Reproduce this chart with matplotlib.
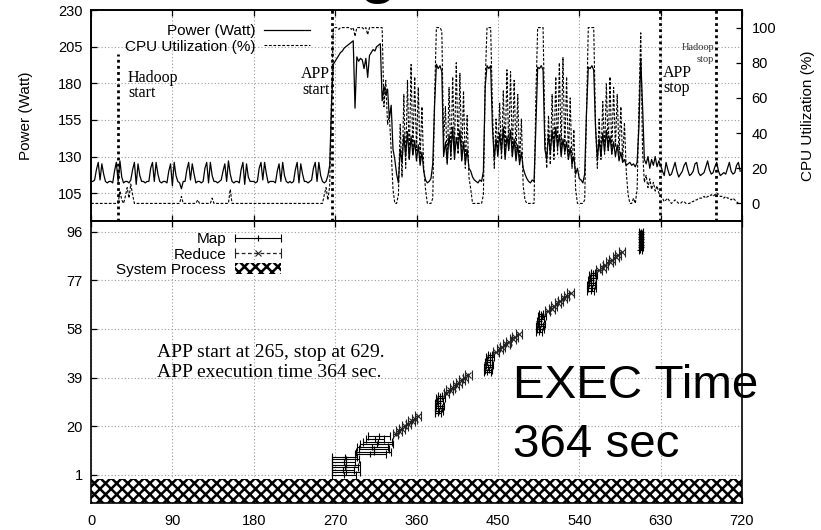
import numpy as np
import matplotlib
matplotlib.use("Agg")
import matplotlib.pyplot as plt
from matplotlib.legend_handler import HandlerErrorbar

# ---- top panel: samples every 2 s (one row = 20 s) ----
sample_step = 2
power_watt = [
    113, 113, 114, 121, 126, 114, 125, 118, 113, 112,   # 0
    113, 113, 112, 120, 126, 113, 127, 116, 112, 113,   # 20
    113, 112, 114, 121, 126, 111, 125, 117, 113, 113,   # 40
    112, 113, 113, 122, 126, 113, 126, 118, 113, 112,   # 60
    113, 113, 112, 120, 125, 110, 126, 117, 113, 112,   # 80
    108, 113, 113, 121, 126, 114, 125, 118, 112, 113,   # 100
    113, 112, 113, 122, 126, 112, 126, 117, 113, 113,   # 120
    112, 113, 114, 120, 125, 113, 127, 118, 113, 112,   # 140
    113, 113, 112, 121, 126, 111, 125, 116, 113, 113,   # 160
    113, 112, 113, 122, 126, 114, 126, 118, 112, 113,   # 180
    113, 113, 112, 120, 125, 113, 126, 117, 113, 112,   # 200
    113, 112, 113, 121, 126, 112, 125, 118, 113, 113,   # 220
    112, 113, 114, 122, 126, 113, 126, 117, 113, 112,   # 240
    113, 117, 124, 165, 193, 195, 197, 199, 201, 202,   # 260
    204, 205, 206, 207, 208, 209, 163, 198, 195, 197,   # 280
    196, 190, 197, 184, 199, 201, 203, 202, 205, 206,   # 300
    207, 168, 178, 172, 176, 156, 165, 135, 128, 118,   # 320
    112, 135, 126, 145, 130, 147, 128, 144, 131, 141,   # 340
    127, 138, 124, 133, 120, 114, 112, 113, 115, 125,   # 360
    165, 193, 190, 192, 188, 130, 140, 126, 145, 132,   # 380
    150, 128, 143, 135, 148, 127, 140, 125, 135, 122,   # 400
    120, 116, 114, 113, 112, 114, 113, 120, 178, 192,   # 420
    190, 192, 150, 128, 142, 130, 146, 133, 150, 128,   # 440
    144, 135, 148, 130, 142, 127, 138, 125, 133, 122,   # 460
    118, 115, 113, 112, 114, 113, 150, 191, 190, 192,   # 480
    189, 135, 128, 145, 132, 148, 134, 150, 136, 145,   # 500
    130, 142, 133, 140, 128, 136, 125, 130, 118, 122,   # 520
    115, 114, 112, 118, 160, 191, 190, 192, 189, 150,   # 540
    128, 142, 130, 146, 133, 148, 135, 144, 132, 140,   # 560
    130, 138, 127, 133, 126, 128, 124, 125, 126, 124,   # 580
    125, 123, 126, 150, 197, 165, 128, 125, 130, 122,   # 600
    128, 124, 130, 123, 127, 124, 120, 117, 126, 121,   # 620
    117, 118, 122, 126, 120, 116, 118, 120, 124, 126,   # 640
    121, 117, 118, 120, 125, 126, 119, 117, 118, 119,   # 660
    123, 127, 121, 118, 119, 123, 126, 120, 117, 118,   # 680
    119, 118, 122, 126, 120, 118, 119, 124, 126, 120,   # 700
]
cpu_util = [
    0, 0, 0, 0, 0, 0, 0, 0, 0, 0,
    0, 0, 0, 0, 0, 0, 7, 2, 0, 4,
    9, 3, 11, 5, 0, 0, 0, 0, 0, 0,
    0, 0, 0, 0, 0, 0, 0, 0, 0, 0,
    0, 0, 0, 0, 0, 0, 0, 0, 0, 0,
    4, 0, 0, 0, 0, 0, 0, 0, 0, 2,
    0, 0, 0, 0, 0, 0, 0, 3, 0, 0,
    0, 0, 0, 0, 0, 0, 0, 8, 0, 0,
    0, 0, 0, 0, 0, 0, 0, 0, 0, 0,
    0, 0, 0, 0, 0, 0, 0, 0, 0, 0,
    0, 0, 0, 0, 0, 0, 0, 0, 0, 0,
    0, 0, 0, 0, 0, 0, 0, 0, 0, 0,
    0, 0, 0, 0, 0, 0, 0, 0, 0, 5,
    9, 2, 10, 60, 100, 100, 100, 99, 100, 100,
    100, 100, 100, 100, 99, 100, 95, 100, 100, 100,
    100, 99, 100, 96, 100, 100, 100, 100, 100, 100,
    100, 100, 55, 70, 45, 50, 30, 8, 0, 0,
    5, 45, 15, 62, 20, 70, 25, 79, 28, 72,
    30, 66, 25, 55, 20, 8, 0, 0, 0, 3,
    60, 100, 100, 100, 98, 35, 55, 22, 66, 25,
    72, 30, 80, 28, 74, 25, 64, 20, 50, 15,
    8, 0, 0, 0, 0, 0, 0, 5, 70, 100,
    100, 100, 55, 20, 48, 30, 57, 25, 64, 28,
    76, 30, 75, 27, 70, 28, 62, 22, 48, 10,
    2, 0, 0, 0, 0, 0, 60, 100, 100, 100,
    100, 40, 20, 50, 22, 62, 25, 72, 28, 80,
    30, 83, 28, 72, 25, 60, 20, 42, 8, 0,
    0, 0, 0, 2, 50, 100, 100, 100, 100, 45,
    20, 48, 25, 58, 28, 68, 30, 72, 28, 66,
    32, 62, 28, 55, 24, 46, 18, 5, 0, 0,
    3, 0, 8, 55, 97, 30, 12, 16, 9, 14,
    8, 12, 7, 10, 6, 4, 3, 1, 2, 3,
    1, 0, 1, 2, 1, 0, 0, 1, 1, 0,
    0, 0, 1, 1, 2, 2, 3, 3, 3, 4,
    3, 4, 4, 5, 4, 5, 6, 5, 4, 4,
    3, 4, 3, 3, 2, 3, 2, 1, 0, 0,
]
time_sec = np.arange(len(power_watt)) * sample_step

event_times = [30, 266, 629, 691]
event_tops = [200, 230, 230, 230]

# ---- bottom panel: task timeline ----
map_task = (list(range(1, 17)) + list(range(25, 33)) + list(range(41, 49))
            + list(range(57, 65)) + list(range(73, 81)) + list(range(89, 97)))
map_start = [267, 267, 267, 267, 267, 267, 267, 267,
             292, 293, 296, 294, 298, 301, 304, 306,
             380, 381, 380, 382, 381, 383, 382, 384,
             435, 436, 435, 437, 436, 438, 437, 439,
             492, 493, 492, 494, 493, 495, 494, 496,
             549, 550, 549, 551, 550, 552, 551, 553,
             606, 606, 607, 606, 607, 606, 607, 606]
map_end = [293, 297, 291, 295, 298, 292, 296, 294,
           326, 332, 330, 328, 334, 333, 324, 331,
           387, 389, 388, 390, 386, 389, 391, 388,
           442, 444, 443, 445, 441, 444, 446, 443,
           499, 501, 500, 502, 498, 501, 503, 500,
           556, 558, 557, 559, 555, 558, 560, 557,
           609, 610, 609, 610, 609, 610, 609, 610]

reduce_task = (list(range(17, 25)) + list(range(33, 41)) + list(range(49, 57))
               + list(range(65, 73)) + list(range(81, 89)))
reduce_start = [334, 337, 341, 344, 348, 351, 355, 358,
                390, 393, 397, 400, 404, 407, 411, 414,
                445, 449, 452, 456, 459, 463, 466, 470,
                502, 506, 509, 513, 516, 520, 523, 527,
                559, 563, 566, 570, 573, 577, 580, 584]
reduce_end = [340, 344, 347, 351, 354, 358, 361, 365,
              396, 400, 403, 407, 410, 414, 417, 421,
              451, 456, 458, 463, 465, 470, 472, 477,
              508, 513, 515, 520, 522, 527, 529, 534,
              565, 570, 572, 577, 579, 584, 586, 591]

sys_time = [0, 720]
sys_low, sys_high = -10, -0.6

plt.rcParams["font.family"] = ["Liberation Sans", "DejaVu Sans"]
plt.rcParams["hatch.linewidth"] = 1.8
serif = "Liberation Serif"

W, H = 821, 530
fig = plt.figure(figsize=(W / 100, H / 100), dpi=100)
ax = fig.add_axes([91 / W, 1 - 221 / H, 651 / W, 211 / H])
axb = fig.add_axes([91 / W, 1 - 503 / H, 651 / W, 282 / H])
ax2 = ax.twinx()

grid_kw = dict(color="#9a9a9a", linestyle=(0, (1, 2)), linewidth=0.8)

h_pow, = ax.plot(time_sec, power_watt, color="black", lw=0.9)
h_cpu, = ax2.plot(time_sec, cpu_util, color="black", lw=0.8, dashes=(2.5, 1.5))

ax.set_xlim(0, 720)
ax.set_ylim(86, 230)
ax.set_yticks(range(105, 231, 25))
ax.set_xticks(range(0, 721, 90))
ax.tick_params(direction="in", top=True, labelbottom=False, length=4,
               width=0.9, labelsize=10.5, pad=6)
ax.grid(True, **grid_kw)
ax2.set_ylim(-10, 110)
ax2.set_yticks(range(0, 101, 20))
ax2.tick_params(direction="in", length=4, width=0.9, labelsize=10.5, pad=7)

ax.set_ylabel("Power (Watt)", fontsize=11)
ax.yaxis.set_label_coords(-0.089, 0.5)
ax2.set_ylabel("CPU Utilization (%)", fontsize=11)
ax2.yaxis.set_label_coords(1.09, 0.5)

for t, top in zip(event_times, event_tops):
    ax.vlines(t, 86, top, colors="black", linestyles=(0, (1, 1.2)), lw=2)

ax.text(41, 181, "Hadoop", family=serif, fontsize=11.5, va="baseline")
ax.text(41, 170.8, "start", family=serif, fontsize=11.5, va="baseline")
ax.text(264, 183.3, "APP", family=serif, fontsize=11.5, va="baseline", ha="right")
ax.text(264, 172.6, "start", family=serif, fontsize=11.5, va="baseline", ha="right")
ax.text(633, 184, "APP", family=serif, fontsize=11.5, va="baseline")
ax.text(633, 174, "stop", family=serif, fontsize=11.5, va="baseline")
ax.text(689, 203, "Hadoop", family=serif, fontsize=7.5, va="baseline", ha="right", color="#333333")
ax.text(689, 194.7, "stop", family=serif, fontsize=7.5, va="baseline", ha="right", color="#333333")

ax2.legend([h_pow, h_cpu], ["Power (Watt)", "CPU Utilization (%)"],
           loc="upper right", bbox_to_anchor=(310 / W, 1 - 24 / H),
           bbox_transform=fig.transFigure, frameon=False, markerfirst=False,
           fontsize=11, handlelength=3, handletextpad=0.6, labelspacing=0.1,
           borderpad=0, borderaxespad=0)

# bottom panel
map_start = np.array(map_start)
map_end = np.array(map_end)
reduce_start = np.array(reduce_start)
reduce_end = np.array(reduce_end)

sys_patch = axb.fill_between(sys_time, sys_low, sys_high, facecolor="white",
                             edgecolor="black", hatch="xxx", linewidth=0, zorder=2)
eb_map = axb.errorbar((map_start + map_end) / 2, map_task, xerr=(map_end - map_start) / 2,
                      fmt="+", color="black", ecolor="black", elinewidth=0.8,
                      capsize=3, capthick=0.8, markersize=5, mew=0.8, zorder=3)
eb_red = axb.errorbar((reduce_start + reduce_end) / 2, reduce_task,
                      xerr=(reduce_end - reduce_start) / 2,
                      fmt="x", color="#222222", ecolor="#222222", elinewidth=0.9,
                      capsize=3.5, capthick=0.9, markersize=4, mew=0.8, zorder=3)
eb_red[2][0].set_linestyle((0, (3, 2)))

axb.set_xlim(0, 720)
axb.set_ylim(-10, 100.2)
axb.set_xticks(range(0, 721, 90))
axb.set_yticks([1, 20, 39, 58, 77, 96])
axb.tick_params(direction="in", top=True, length=4, width=0.9, labelsize=10.5, pad=6)
axb.tick_params(axis="x", pad=8)
axb.grid(True, **grid_kw)

axb.legend([eb_map, eb_red, sys_patch], ["Map", "Reduce", "System Process"],
           handler_map={eb_map: HandlerErrorbar(xerr_size=1.5),
                        eb_red: HandlerErrorbar(xerr_size=1.5)},
           loc="upper right", bbox_to_anchor=(281 / W, 1 - 232 / H),
           bbox_transform=fig.transFigure, frameon=False, markerfirst=False,
           fontsize=11, handlelength=3, handletextpad=0.6, labelspacing=0.1,
           borderpad=0, borderaxespad=0)

axb.text(73, 47.2, "APP start at 265, stop at 629.", family=serif, fontsize=14, va="baseline")
axb.text(73, 39.4, "APP execution time 364 sec.", family=serif, fontsize=14, va="baseline")
axb.text(467, 31.1, "EXEC Time", fontsize=34.2, va="baseline")
axb.text(467, 8.0, "364 sec", fontsize=34.2, va="baseline")

for a in (ax, ax2, axb):
    for s in a.spines.values():
        s.set_linewidth(1.2)

# bottom of the cropped slide title
fig.text(378 / W, 1 + 8 / H, "g", fontsize=43, fontweight="bold", ha="center", va="baseline")

fig.savefig("out.png", dpi=100)
